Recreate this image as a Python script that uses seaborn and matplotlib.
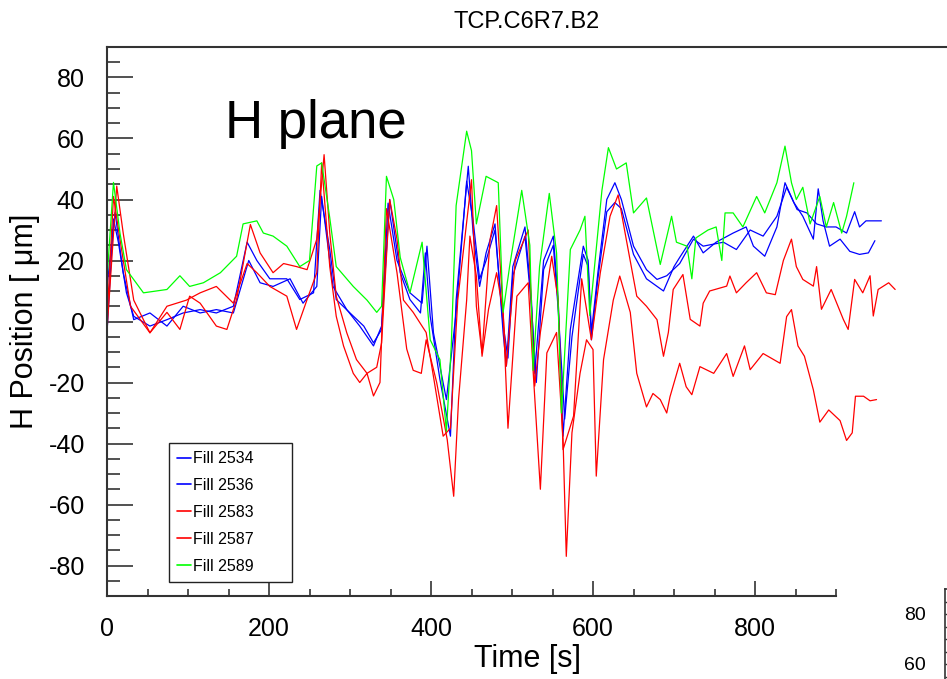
import numpy as np
import pandas as pd
import matplotlib
matplotlib.use("Agg")
import matplotlib.pyplot as plt
import seaborn as sns
from matplotlib.ticker import FixedLocator, MultipleLocator

# Fill 2534 (blue)
t_2534 = [0, 8, 14, 24, 33, 53, 74, 94, 115, 135, 156, 173, 185, 201, 222, 238, 255, 263, 275, 283,
          300, 317, 329, 339, 349, 362, 374, 387, 393, 399, 411, 424, 431, 446, 452, 460, 468, 479, 489, 493,
          501, 516, 524, 528, 539, 551, 557, 563, 572, 588, 594, 598, 606, 617, 627, 635, 650, 666, 679, 691,
          707, 724, 736, 761, 777, 794, 810, 827, 839, 852, 864, 876, 888, 900, 913, 923, 929, 937, 956]
v_2534 = [-3.7, 33.6, 26, 9.4, 1.7, -1.5, 0.6, 2.8, 3.9, 2.8, 5, 26, 20, 14, 14, 7.2, 9.4, 43, 23.6, 7.2,
          2.8, -1.5, -7, -2.6, 40, 16, 7.2, 2.8, 22.5, 1.7, -19, -37.6, 7, 50.9, 29, 11.5, 22.5, 32, -3.6, -14.6,
          18, 31, 7, -17, 20, 28, 7, -37.6, -2.6, 24.7, 20, -3.6, 16, 40, 45.5, 40, 24.7, 17, 13.8, 15,
          19, 27, 24.7, 26, 23.6, 30, 28, 34.5, 44, 36.7, 35.6, 32, 31, 31, 29, 36, 31, 33, 33]

# Fill 2536 (blue)
t_2536 = [0, 10, 20, 33, 53, 74, 94, 115, 135, 156, 175, 189, 205, 226, 242, 259, 265, 279, 296, 312,
          329, 339, 347, 358, 374, 389, 395, 403, 419, 431, 444, 452, 460, 468, 479, 489, 495, 501, 516, 524,
          530, 539, 551, 557, 565, 574, 588, 594, 598, 606, 617, 627, 635, 650, 666, 687, 700, 707, 724, 736,
          752, 773, 789, 798, 812, 827, 837, 848, 859, 872, 878, 884, 892, 905, 917, 929, 940, 948]
v_2536 = [11.5, 35.7, 16, 0.6, 2.8, -1.5, 5, 2.8, 3.9, 2.8, 20, 12.7, 11.5, 14, 6, 11.5, 41, 11.5, 3.9, -1.5,
          -8, -1.5, 38.8, 20, 9.4, 6, 24.7, -3.7, -25.6, 3, 46, 33, 14, 20, 30, -1, -12, 15, 28, 5,
          -20, 17, 25, 4, -32, -5, 22, 18, -6, 14, 36, 39, 37, 22, 14, 10, 18, 21, 28, 22.5,
          26, 29, 31, 24.7, 21.4, 31, 45.5, 39, 34.5, 27, 43.5, 33, 24.7, 27, 23, 22, 22.5, 26.5]

# Fill 2583 (red)
t_2583 = [0, 12, 20, 33, 53, 74, 90, 102, 115, 135, 148, 160, 177, 189, 205, 218, 234, 247, 259, 268,
          275, 283, 296, 308, 321, 333, 339, 349, 358, 366, 378, 394, 403, 415, 424, 433, 450, 456, 463, 473,
          481, 489, 493, 504, 520, 528, 535, 549, 557, 563, 576, 586, 598, 609, 621, 631, 641, 654, 666, 679,
          687, 693, 699, 711, 720, 732, 736, 744, 765, 769, 777, 789, 802, 814, 825, 835, 845, 851, 859, 872,
          876, 882, 894, 909, 915, 923, 933, 942, 946, 952, 965, 973]
v_2583 = [-3, 44.4, 29, 7, -3.7, 3, -2.6, 8.3, 6, -1.5, -2.6, 7.2, 31.8, 22.5, 16, 19, 18, 17, 27, 54.7,
          29, 8.3, -3.7, -12.5, -17, -15, -7, 40, 27, 7, 3, -3.6, -18, -37.6, -35, 7, 46.5, 5, -10.3, 27,
          38, 3, -14.6, 20, 30, -21.2, -3.6, 21.4, 7, -42, -31, 14, -6, 16, 34.5, 41.5, 27, 8.3, 5, 0.6,
          -11.4, -3.6, 10.5, 15.4, 0.7, -1.5, 6, 10, 11.6, 14.9, 9.4, 12.7, 16, 9.4, 8.8, 20, 27, 18, 13.8, 11.6,
          18, 4, 10.5, 0.7, -2.6, 13.8, 9.4, 15, 1.8, 10.5, 12.7, 10.5]

# Fill 2587 (red)
t_2587 = [0, 8, 16, 29, 53, 74, 98, 115, 135, 156, 173, 185, 201, 222, 234, 247, 259, 265, 275, 283,
          292, 304, 312, 321, 329, 337, 345, 358, 370, 378, 388, 394, 407, 420, 428, 434, 444, 448, 456, 463,
          471, 481, 489, 495, 506, 520, 526, 535, 543, 555, 563, 567, 574, 584, 592, 600, 604, 613, 625, 633,
          646, 654, 666, 674, 683, 691, 695, 707, 715, 722, 732, 749, 765, 773, 787, 794, 810, 831, 839, 845,
          853, 861, 872, 880, 891, 905, 913, 920, 924, 934, 942, 950]
v_2587 = [0.6, 41, 27, 5, -3.7, 5, 7, 9.4, 11.5, 6, 19, 16, 11.5, 8.3, -2.6, 7.2, 16, 52, 18, 1.7,
          -8, -17, -20, -17, -24.4, -20, 37, 16, -9, -16, -17, -6, -20, -38.7, -57.3, -25.6, 7, 28, 14.9, -11.4,
          4, 16, 3, -35, 8.3, 12.7, -16, -55, -10.3, -3.6, -38.7, -77, -36.5, -17, -6, -9.2, -50.7, -12.5, 7, 14.9,
          3, -17, -28, -23.6, -25.6, -30, -24.7, -13.7, -21.4, -24, -14.8, -17, -10.5, -18, -8, -15.8, -10.5, -13.7, 1.6, 3.9,
          -8, -11.4, -22.4, -33, -29, -32.5, -39, -36.5, -24.5, -24.5, -26, -25.6]

# Fill 2589 (green)
t_2589 = [0, 8, 16, 24, 45, 74, 90, 102, 119, 140, 160, 168, 185, 193, 205, 222, 238, 250, 259, 265,
          275, 283, 304, 321, 333, 339, 345, 354, 362, 374, 389, 399, 411, 419, 425, 431, 444, 450, 456, 468,
          483, 489, 497, 512, 522, 526, 534, 546, 555, 561, 572, 584, 590, 596, 611, 619, 629, 641, 650, 666,
          683, 697, 703, 716, 722, 727, 742, 752, 759, 763, 773, 785, 802, 812, 827, 837, 845, 851, 859, 868,
          880, 888, 897, 907, 913, 922]
v_2589 = [13.8, 45.6, 29, 17, 9.4, 10.5, 15, 11.5, 12.7, 16, 21.4, 32, 33, 29, 28, 24.7, 18, 20, 51, 52,
          34, 18, 11.5, 7, 3, 5, 47.6, 40, 21, 9.4, 26, -6, -12.5, -36, -8, 38, 62.4, 56, 32, 47.6,
          45.5, 3, 18, 43, 25, -16, 18, 42, 22.5, -30, 23.6, 30, 34.5, 2, 43, 57, 50, 52, 35.6, 40.5,
          18.7, 34.5, 26, 24.7, 14, 27.4, 30, 31, 20, 35.6, 35.6, 31, 41, 35.6, 45.5, 57.5, 45.5, 40, 44, 32,
          41, 31, 39, 29, 34.5, 45.5]

fills = ["Fill 2534", "Fill 2536", "Fill 2583", "Fill 2587", "Fill 2589"]
colors = ["#0000ff", "#0000ff", "#ff0000", "#ff0000", "#00ff00"]
series = [(t_2534, v_2534), (t_2536, v_2536), (t_2583, v_2583), (t_2587, v_2587), (t_2589, v_2589)]

# tick labels of the next panel that peek in at the bottom right
side_ticks = [80, 60]

df = pd.concat([pd.DataFrame({"time": t, "pos": v, "fill": name})
                for name, (t, v) in zip(fills, series)], ignore_index=True)

sns.set_style("white")
plt.rcParams["font.family"] = ["Liberation Sans", "DejaVu Sans"]
plt.rcParams["axes.unicode_minus"] = False
plt.rcParams["text.color"] = "black"
plt.rcParams["axes.labelcolor"] = "black"
plt.rcParams["xtick.color"] = "black"
plt.rcParams["ytick.color"] = "black"

fig = plt.figure(figsize=(9.47, 6.79), dpi=100)
ax = fig.add_axes([107 / 947, 83 / 679, 840 / 947, 549 / 679])

sns.lineplot(data=df, x="time", y="pos", hue="fill", palette=dict(zip(fills, colors)),
             estimator=None, sort=False, linewidth=0.9, ax=ax)

ax.set_xlim(0, 1037)
ax.set_ylim(-90, 90)

spine_col = "#333333"
for s in ["left", "bottom", "top"]:
    ax.spines[s].set_color(spine_col)
    ax.spines[s].set_linewidth(1.5)
ax.spines["right"].set_visible(False)
ax.spines["bottom"].set_bounds(0, 900)

ax.xaxis.set_major_locator(FixedLocator([0, 200, 400, 600, 800]))
ax.xaxis.set_minor_locator(FixedLocator([x for x in range(50, 901, 50) if x % 200 != 0]))
ax.yaxis.set_major_locator(MultipleLocator(20))
ax.yaxis.set_minor_locator(MultipleLocator(5))
ax.tick_params(axis="x", which="major", direction="in", length=10.5, width=1.2, color=spine_col,
               labelsize=18, pad=15, bottom=True, top=False)
ax.tick_params(axis="x", which="minor", direction="in", length=5, width=1.2, color=spine_col,
               bottom=True, top=False)
ax.tick_params(axis="y", which="major", direction="in", length=18.5, width=1.2, color=spine_col,
               labelsize=18, pad=16, left=True, right=False)
ax.tick_params(axis="y", which="minor", direction="in", length=9.5, width=1.2, color=spine_col,
               left=True, right=False)

ax.set_xlabel("Time [s]", fontsize=22, labelpad=2)
ax.set_ylabel("H Position [ μm]", fontsize=22, labelpad=6)
ax.set_title("TCP.C6R7.B2", fontsize=17, pad=14)

ax.text(0.14, 0.834, "H plane", transform=ax.transAxes, fontsize=38, ha="left", va="baseline")

handles, labels = ax.get_legend_handles_labels()
leg = ax.legend(handles, labels, loc="lower left", bbox_to_anchor=(62 / 840, 14 / 549, 123 / 840, 139 / 549),
                mode="expand", borderaxespad=0, fontsize=11.5, frameon=True, fancybox=False, framealpha=1,
                edgecolor="#222222", handlelength=0.9, handletextpad=0.1, borderpad=0.5,
                labelspacing=0.75)
leg.get_frame().set_linewidth(1.0)
for line in leg.get_lines():
    line.set_linewidth(1.2)

# neighbouring panel, only its top-left corner shows in the frame
ax2 = fig.add_axes([945 / 947, (679 - 1039) / 679, 0.2, 450 / 679])
ax2.set_ylim(-90, 90)
ax2.set_xlim(0, 1)
ax2.set_xticks([])
ax2.yaxis.set_major_locator(FixedLocator(side_ticks))
ax2.yaxis.set_minor_locator(FixedLocator([85, 75, 70, 65, 55, 50]))
for s in ["left", "top"]:
    ax2.spines[s].set_color(spine_col)
    ax2.spines[s].set_linewidth(1.2)
ax2.tick_params(axis="y", which="major", direction="in", length=9, width=1.0, color=spine_col,
                labelsize=14, pad=14, left=True)
ax2.tick_params(axis="y", which="minor", direction="in", length=5, width=1.0, color=spine_col, left=True)

fig.savefig("out.png", dpi=100)
